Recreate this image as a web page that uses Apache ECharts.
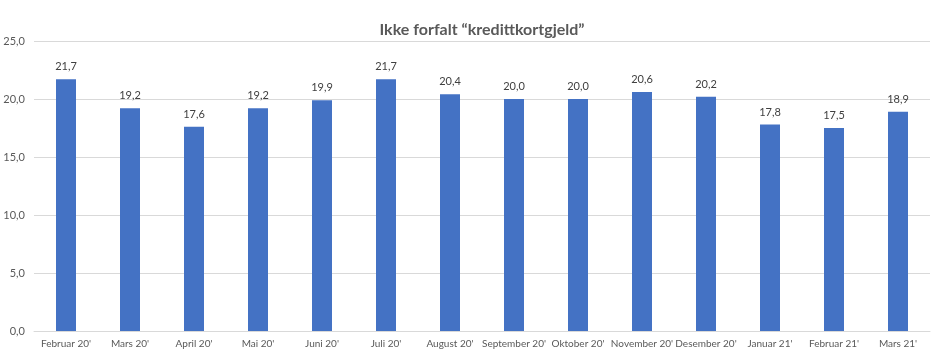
<!DOCTYPE html>
<html><head><meta charset="utf-8">
<script src="https://cdn.jsdelivr.net/npm/echarts@6/dist/echarts.min.js"></script>
<style>html,body{margin:0;padding:0;background:#fff}#c{width:942px;height:357px}</style>
</head><body><div id="c"></div>
<script>
const categories = ["Februar 20'","Mars 20'","April 20'","Mai 20'","Juni 20'","Juli 20'","August 20'","September 20'","Oktober 20'","November 20'","Desember 20'","Januar 21'","Februar 21'","Mars 21'"];
const values = [21.7,19.2,17.6,19.2,19.9,21.7,20.4,20.0,20.0,20.6,20.2,17.8,17.5,18.9];
const chart = echarts.init(document.getElementById('c'));
const fmt = v => Number(v).toFixed(1).replace('.', ',');
chart.setOption({
  animation:false,
  title:{text:'Ikke forfalt \u201ckredittkortgjeld\u201d',left:477,top:17,textAlign:'center',
    textStyle:{fontFamily:'Lato',fontSize:16,fontWeight:'bold',color:'#595959'}},
  grid:{left:34,right:12,top:41,bottom:26,containLabel:false},
  xAxis:{type:'category',data:categories,
    axisLine:{lineStyle:{color:'#d9d9d9',width:1}},axisTick:{show:false},
    axisLabel:{color:'#595959',fontFamily:'Lato',fontSize:10,margin:8,interval:0,hideOverlap:false,overflow:'none'}},
  yAxis:{type:'value',min:0,max:25,interval:5,
    axisLine:{show:false},axisTick:{show:false},
    splitLine:{lineStyle:{color:'#d9d9d9',width:1}},
    axisLabel:{color:'#595959',fontFamily:'Lato',fontSize:11,margin:9,formatter:fmt}},
  series:[{type:'bar',data:values,barWidth:20,itemStyle:{color:'#4472c4'},
    label:{show:true,position:'top',distance:7,color:'#404040',fontFamily:'Lato',fontSize:11,
      formatter:p=>fmt(p.value)}}]
});
</script></body></html>
